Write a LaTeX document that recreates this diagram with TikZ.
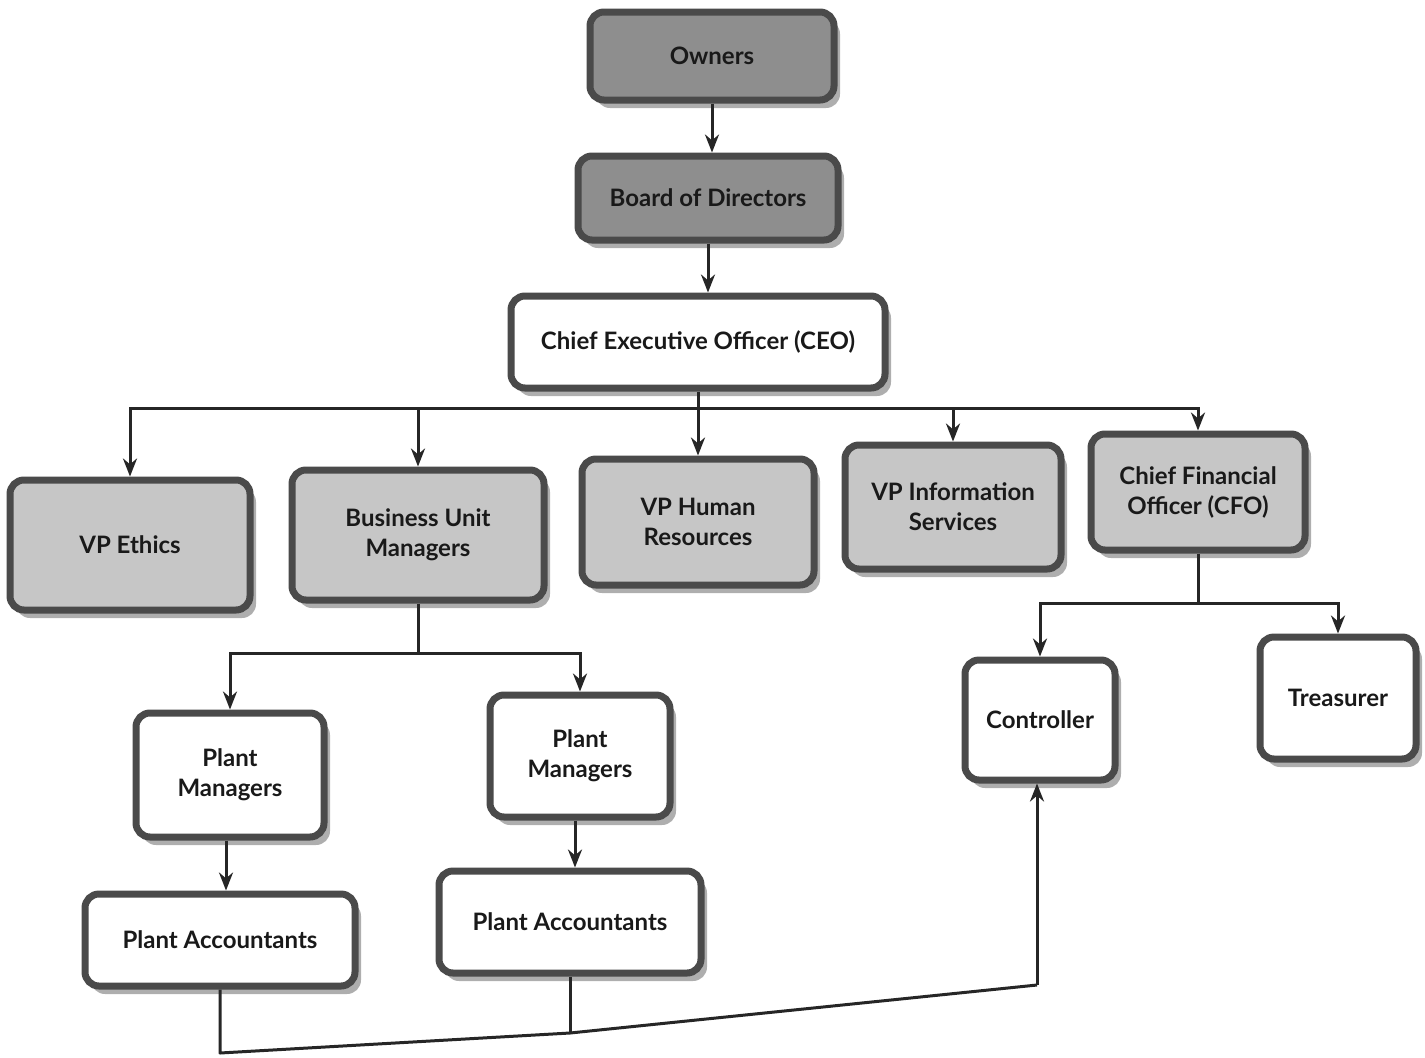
\documentclass[tikz,border=0pt]{standalone}
\usepackage{fontspec}
\setmainfont{Lato}
\usetikzlibrary{arrows.meta,shadows}
\definecolor{edge}{HTML}{4A4A4A}
\definecolor{darkfill}{HTML}{8E8E8E}
\definecolor{lightfill}{HTML}{C6C6C6}
\definecolor{shade}{HTML}{9A9A9A}
\tikzset{
  box/.style={draw=edge, line width=3.5pt, rounded corners=7pt, inner sep=2pt,
    align=center, font=\bfseries\fontsize{12}{15}\selectfont, text=black!90,
    drop shadow={shadow xshift=3pt, shadow yshift=-4pt, fill=shade, opacity=0.8}},
  darkbox/.style={box, fill=darkfill},
  lightbox/.style={box, fill=lightfill},
  whitebox/.style={box, fill=white},
  arr/.style={line width=1.5pt, draw=black!85, -{Stealth[length=9pt,width=7pt]}},
  ln/.style={line width=1.5pt, draw=black!85},
}
\begin{document}
\begin{tikzpicture}[x=0.5pt,y=-0.5pt]
\useasboundingbox (0,0) rectangle (1425,1057);
% top chain
\node[darkbox, minimum width=122pt, minimum height=44pt] (own) at (712,56) {Owners};
\node[darkbox, minimum width=130pt, minimum height=42pt] (bod) at (708,198) {Board of Directors};
\node[whitebox, minimum width=187pt, minimum height=46pt] (ceo) at (698,342) {Chief Executive Officer (CEO)};
% VP level
\node[lightbox, minimum width=120pt, minimum height=65pt] (vpe) at (130,545) {VP Ethics};
\node[lightbox, minimum width=126pt, minimum height=65pt] (bum) at (418,535) {Business Unit\\Managers};
\node[lightbox, minimum width=116pt, minimum height=63pt] (vphr) at (698,522) {VP Human\\Resources};
\node[lightbox, minimum width=108pt, minimum height=62pt] (vpis) at (953,507) {VP Information\\Services};
\node[lightbox, minimum width=107pt, minimum height=58pt] (cfo) at (1198,492) {Chief Financial\\Officer (CFO)};
% lower level
\node[whitebox, minimum width=94pt, minimum height=62pt] (pm1) at (230,775) {Plant\\Managers};
\node[whitebox, minimum width=90pt, minimum height=61pt] (pm2) at (580,756) {Plant\\Managers};
\node[whitebox, minimum width=75pt, minimum height=60pt] (ctl) at (1040,720) {Controller};
\node[whitebox, minimum width=78pt, minimum height=61pt] (trs) at (1338,698) {Treasurer};
\node[whitebox, minimum width=135pt, minimum height=46pt] (pa1) at (220,940) {Plant Accountants};
\node[whitebox, minimum width=131pt, minimum height=51pt] (pa2) at (570,922) {Plant Accountants};
% connectors top
\draw[arr] (own.south) -- (own.south |- bod.north);
\draw[arr] (bod.south) -- (bod.south |- ceo.north);
% CEO bus
\coordinate (cbus) at (698,408);
\draw[arr] (ceo.south) -- (vphr.north);
\draw[arr] (cbus) -| (vpe.north);
\draw[arr] (cbus) -| (bum.north);
\draw[arr] (cbus) -| (vpis.north);
\draw[arr] (cbus) -| (cfo.north);
% BUM bus
\coordinate (bbus) at (418,653);
\draw[ln] (bum.south) -- (bbus);
\draw[arr] (bbus) -| (pm1.north);
\draw[arr] (bbus) -| (pm2.north);
% CFO bus
\coordinate (fbus) at (1198,603);
\draw[ln] (cfo.south) -- (fbus);
\draw[arr] (fbus) -| (ctl.north);
\draw[arr] (fbus) -| (trs.north);
% plant managers to accountants
\coordinate (m1) at (226,0);
\coordinate (m2) at (575,0);
\draw[arr] (m1 |- pm1.south) -- (m1 |- pa1.north);
\draw[arr] (m2 |- pm2.south) -- (m2 |- pa2.north);
% accountants to controller
\coordinate (b1) at (220,1053);
\coordinate (b2) at (570,1033);
\coordinate (b3) at (1037,985);
\draw[ln, line join=round] (pa1.south) -- (b1) -- (b2) -- (b3);
\draw[ln] (pa2.south) -- (b2);
\draw[arr] (b3) -- (b3 |- ctl.south);
\end{tikzpicture}
\end{document}
